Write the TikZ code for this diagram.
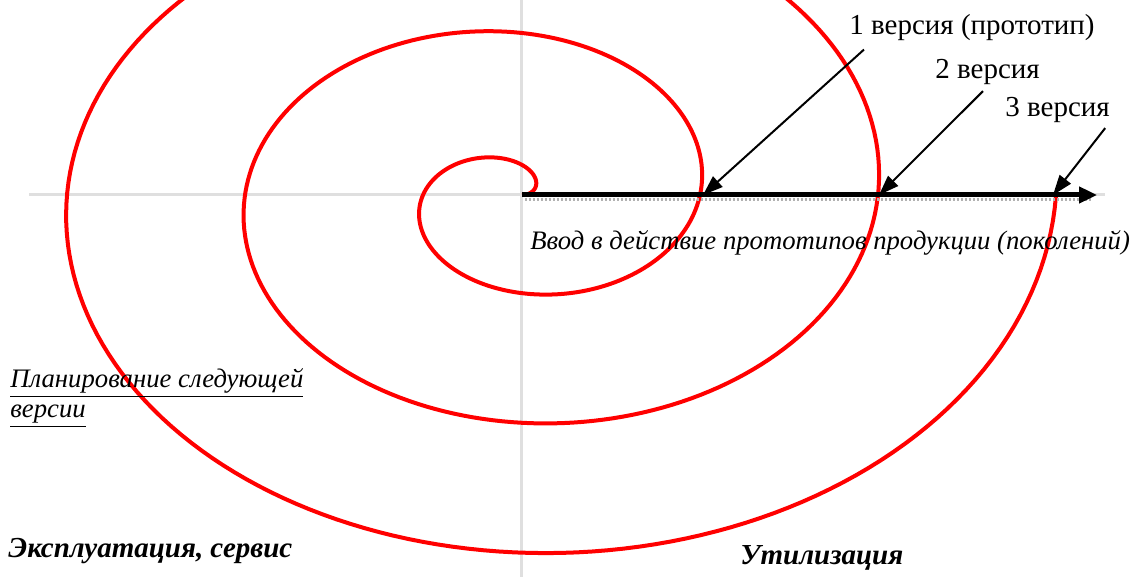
\documentclass[tikz,border=0pt]{standalone}
\usepackage{fontspec}
\setmainfont{Liberation Serif}
\usetikzlibrary{arrows.meta}

\begin{document}
\begin{tikzpicture}[x=0.5pt,y=-0.5pt,
      axisline/.style={gray!25,line width=1.5pt},
      spiral/.style={red,line width=2pt},
      verlabel/.style={font=\fontsize{14.5}{17}\selectfont,inner sep=0pt,anchor=west},
      note/.style={font=\fontsize{13.35}{15}\selectfont\itshape,inner sep=0pt,anchor=west},
      phase/.style={font=\fontsize{14.5}{17}\selectfont\bfseries\itshape,inner sep=0pt,anchor=west},
      pointer/.style={-{Triangle[length=10pt,width=7pt]},line width=1pt}]
    \useasboundingbox (0,0) rectangle (1133,577);
    \clip (0,0) rectangle (1133,577);

    % Axes
    \coordinate (o)  at (522,195);
    \coordinate (xl) at (29,195);
    \coordinate (xr) at (1105,195);
    \coordinate (yt) at (521,0);
    \coordinate (yb) at (521,577);
    \draw[axisline] (xl) -- (xr) (yt) -- (yb);

    % Spiral
    \draw[spiral] plot[domain=0:6*pi,samples=600,variable=\t]
      ({522+89*\t/pi*cos(\t r)-5*(1-cos(\t r))},{195-65*\t/pi*sin(\t r)});

    % Generations on the time axis
    \coordinate (v1) at (703,195);
    \coordinate (v2) at (879,195);
    \coordinate (v3) at (1053,195);
    \coordinate (hs) at (525,200);
    \coordinate (he) at (1092,200);
    \coordinate (te) at (1097,195);
    \draw[gray!60,line width=1.5pt,dash pattern=on 1pt off 1pt] (hs) -- (he);
    \draw[-{Triangle[length=9pt,width=8pt]},line width=2.5pt] (o) -- (te);

    % Labels
    \node[verlabel] (ver1)  at (849,28)  {1 версия (прототип)};
    \node[verlabel] (ver2)  at (935,72)  {2 версия};
    \node[verlabel] (ver3)  at (1005,110){3 версия};
    \node[note]     (intro) at (530,243) {Ввод в действие прототипов продукции (поколений)};
    \node[note,align=left]
                    (plan)  at (10,398)  {\underline{Планирование следующей}\\\underline{версии}};
    \node[phase]    (use)   at (8,551)   {Эксплуатация, сервис};
    \node[phase]    (disp)  at (740,558) {Утилизация};

    % Arrows
    \draw[pointer] ([shift={(15,8)}]ver1.south west) -- (v1);
    \draw[pointer] ([shift={(48,6)}]ver2.south west) -- (v2);
    \draw[pointer] ([shift={(-5,5)}]ver3.south east) -- (v3);

  \end{tikzpicture}
\end{document}
